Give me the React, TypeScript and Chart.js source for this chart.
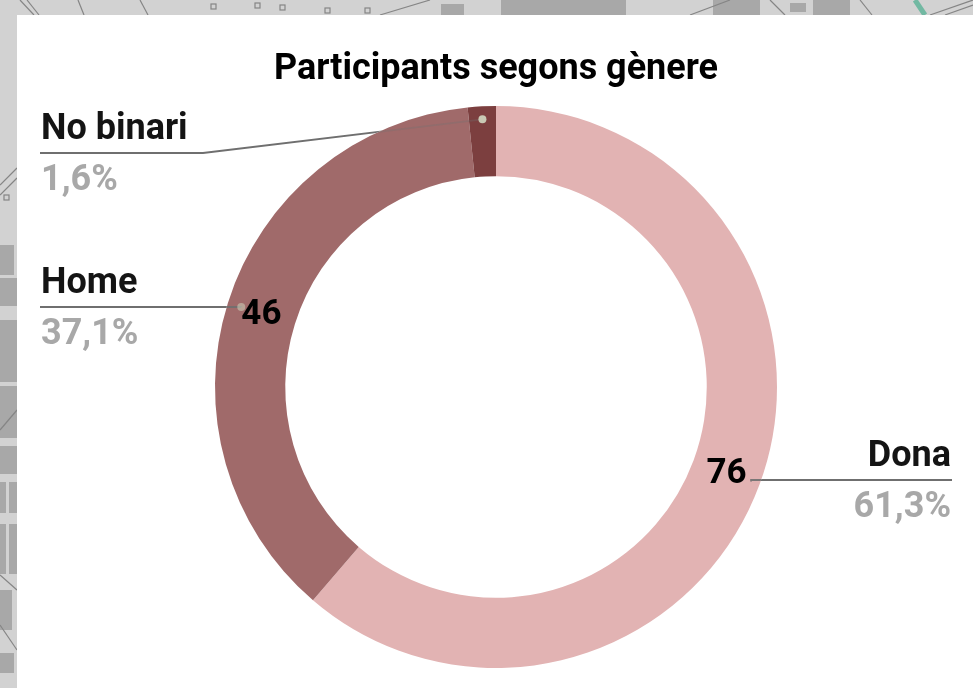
import React, { useEffect, useRef } from "react";
import { Chart, registerables } from "chart.js";

Chart.register(...registerables);

const titleText = "Participants segons gènere";
const categories = ["Dona", "Home", "No binari"];
const counts = [76, 46, 2];
const percentLabels = ["61,3%", "37,1%", "1,6%"];
const sliceColors = ["#e2b3b3", "#a06a6a", "#7c3f3f"];
const countVisible = [true, true, false];

const FONT = "Roboto, sans-serif";

// Grey street-map backdrop behind the white panel (decoration only)
const mapBlocks: number[][] = [
  [501, 0, 125, 15], [713, 0, 47, 15], [813, 0, 37, 15], [790, 3, 16, 9], [441, 4, 23, 11],
  [0, 245, 14, 30], [0, 278, 17, 28], [0, 320, 17, 62], [0, 386, 17, 52],
  [0, 446, 17, 28], [0, 482, 6, 31], [9, 482, 8, 31], [0, 524, 6, 50], [9, 524, 8, 50],
  [0, 590, 12, 40], [0, 653, 14, 20],
];
const mapLines: number[][] = [
  [20, 0, 34, 15], [27, 0, 39, 15], [78, 0, 84, 15], [140, 0, 148, 15],
  [0, 185, 17, 168], [0, 195, 17, 178], [0, 430, 17, 410],
  [380, 15, 430, 0], [690, 15, 730, 0], [930, 15, 973, 0], [945, 15, 973, 5],
  [770, 0, 785, 15], [860, 0, 872, 15], [0, 575, 17, 590], [0, 625, 17, 650],
];
const mapSquares: number[][] = [
  [211, 4], [255, 3], [280, 5], [325, 8], [365, 8], [4, 195],
];

const backdrop = {
  id: "backdrop",
  beforeDraw(chart: any) {
    const { ctx, width, height } = chart;
    ctx.save();
    ctx.fillStyle = "#d2d2d2";
    ctx.fillRect(0, 0, width, height);
    ctx.fillStyle = "#a8a8a8";
    mapBlocks.forEach(([x, y, w, h]) => ctx.fillRect(x, y, w, h));
    ctx.strokeStyle = "#858585";
    ctx.lineWidth = 1.2;
    mapLines.forEach(([a, b, c, d]) => {
      ctx.beginPath();
      ctx.moveTo(a, b);
      ctx.lineTo(c, d);
      ctx.stroke();
    });
    mapSquares.forEach(([x, y]) => ctx.strokeRect(x, y, 5, 5));
    ctx.strokeStyle = "#72b8a2";
    ctx.lineWidth = 5;
    ctx.beginPath();
    ctx.moveTo(915, 0);
    ctx.lineTo(925, 15);
    ctx.stroke();
    ctx.fillStyle = "#ffffff";
    ctx.fillRect(17, 15, width - 17, height - 15);
    ctx.restore();
  },
};

// Callout geometry for each category
const calloutRuleY = [480, 307, 153];
const calloutTextX = [951, 41, 41];
const calloutRuleEnd = [952, 40, 40];
const calloutElbowX = [null, null, 203];
const calloutDotRadius = [272, 267, 268];
const calloutDotAlpha = [0, 0.6, 1];
const calloutInnerAlpha = [0.9, 0.9, 0.3];

const callouts = {
  id: "callouts",
  afterDatasetsDraw(chart: any) {
    const { ctx, width, height } = chart;
    const arcs = chart.getDatasetMeta(0).data;
    arcs.forEach((arc: any, i: number) => {
      const { x, y, startAngle, endAngle, innerRadius, outerRadius } = arc.getProps(
        ["x", "y", "startAngle", "endAngle", "innerRadius", "outerRadius"],
        true,
      );
      const mid = (startAngle + endAngle) / 2;
      const r = (innerRadius + outerRadius) / 2;
      const dotX = x + Math.cos(mid) * calloutDotRadius[i];
      const dotY = y + Math.sin(mid) * calloutDotRadius[i];
      const ruleY = calloutRuleY[i];
      const right = calloutTextX[i] > x;

      const strokeLeader = () => {
        ctx.beginPath();
        ctx.moveTo(calloutRuleEnd[i], ruleY);
        const elbow = calloutElbowX[i];
        if (elbow != null) ctx.lineTo(elbow, ruleY);
        else ctx.lineTo(dotX, ruleY);
        ctx.lineTo(dotX, dotY);
        ctx.stroke();
      };

      ctx.save();
      ctx.strokeStyle = "#6f6f6f";
      ctx.lineWidth = 1.8;

      // part of the leader outside the ring
      ctx.save();
      ctx.beginPath();
      ctx.rect(0, 0, width, height);
      ctx.arc(x, y, outerRadius, 0, Math.PI * 2);
      ctx.clip("evenodd");
      strokeLeader();
      ctx.restore();

      // part of the leader over the ring
      ctx.save();
      ctx.beginPath();
      ctx.arc(x, y, outerRadius, 0, Math.PI * 2);
      ctx.clip();
      ctx.globalAlpha = calloutInnerAlpha[i];
      strokeLeader();
      ctx.restore();

      ctx.globalAlpha = calloutDotAlpha[i];
      ctx.fillStyle = "#c9c9b4";
      ctx.beginPath();
      ctx.arc(dotX, dotY, 4, 0, Math.PI * 2);
      ctx.fill();
      ctx.globalAlpha = 1;

      ctx.textAlign = right ? "right" : "left";
      ctx.textBaseline = "alphabetic";
      ctx.font = `700 36px ${FONT}`;
      ctx.fillStyle = "#141414";
      ctx.fillText(categories[i], calloutTextX[i], ruleY - 14);
      ctx.fillStyle = "#a8a8a8";
      ctx.fillText(percentLabels[i], calloutTextX[i], ruleY + 37);

      if (countVisible[i]) {
        ctx.textAlign = "center";
        ctx.textBaseline = "middle";
        ctx.fillStyle = "#000000";
        ctx.font = `700 35px ${FONT}`;
        ctx.fillText(String(counts[i]), x + Math.cos(mid) * r, y + Math.sin(mid) * r + 2);
      }
      ctx.restore();
    });
  },
};

export default function App() {
  const ref = useRef<HTMLCanvasElement>(null);

  useEffect(() => {
    document.body.style.margin = "0";
    const chart = new Chart(ref.current!, {
      type: "doughnut",
      data: {
        labels: categories,
        datasets: [{ data: counts, backgroundColor: sliceColors, borderWidth: 0 }],
      },
      options: {
        animation: false,
        responsive: false,
        cutout: "75%",
        layout: { padding: { left: 215, right: 196, top: 48, bottom: 19.5 } },
        plugins: {
          legend: { display: false },
          tooltip: { enabled: false },
          title: {
            display: true,
            text: titleText,
            color: "#000000",
            font: { family: FONT, size: 36, weight: "bold", lineHeight: 1.2 },
            padding: { top: 0, bottom: 14.3 },
          },
        },
      },
      plugins: [backdrop, callouts],
    });
    return () => chart.destroy();
  }, []);

  return <canvas ref={ref} width={973} height={688} style={{ display: "block" }} />;
}
